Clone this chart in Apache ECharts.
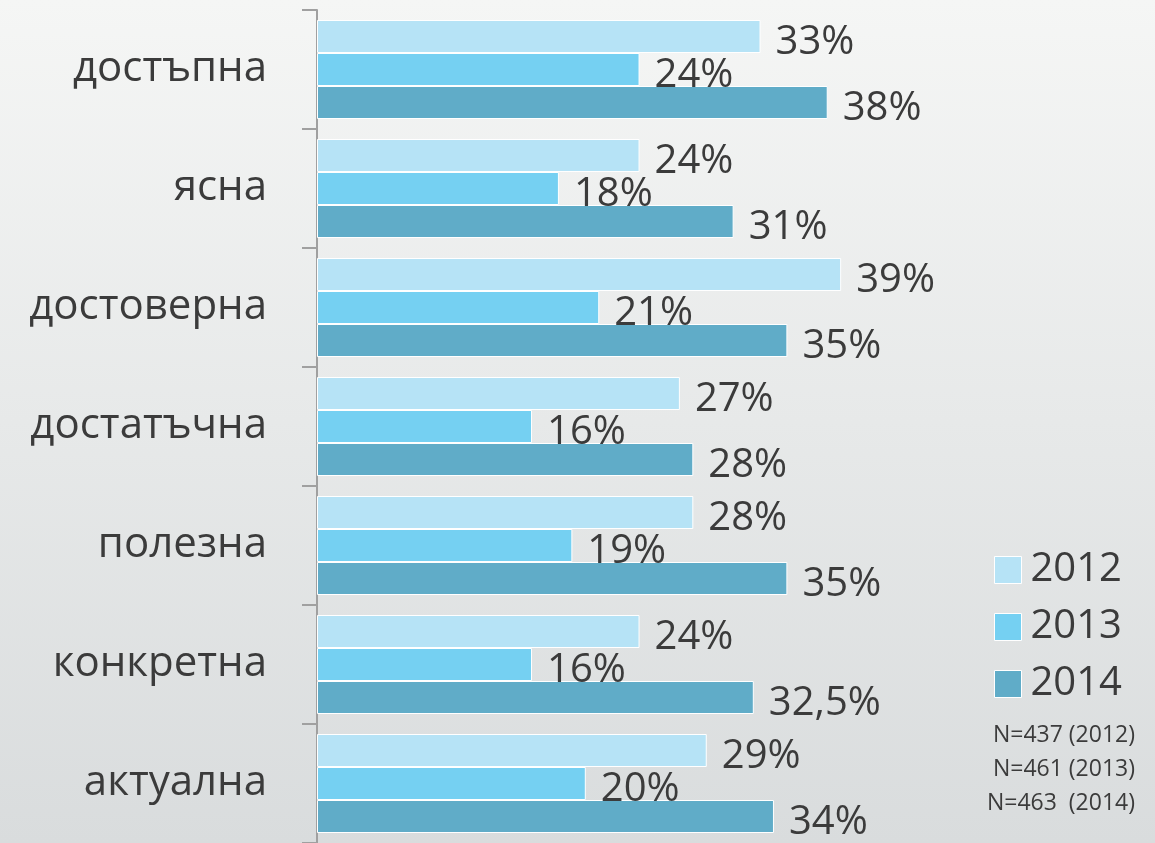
<!DOCTYPE html>
<html>
<head>
<meta charset="utf-8">
<script src="https://cdn.jsdelivr.net/npm/echarts@6/dist/echarts.min.js"></script>
<style>
  html, body { margin: 0; padding: 0; }
  #chart { width: 1155px; height: 843px; }
</style>
</head>
<body>
<div id="chart"></div>
<script>
// категории отгоре надолу
var categories = ['достъпна', 'ясна', 'достоверна', 'достатъчна', 'полезна', 'конкретна', 'актуална'];
var years = ['2012', '2013', '2014'];
var values2012 = [33, 24, 39, 27, 28, 24, 29];
var values2013 = [24, 18, 21, 16, 19, 16, 20];
var values2014 = [38, 31, 35, 28, 35, 32.5, 34];
var sampleNotes = ['N=437 (2012)', 'N=461 (2013)', 'N=463  (2014)'];

var colors = ['#b6e3f6', '#75d0f2', '#60acc8'];
var fontName = '"Open Sans", "DejaVu Sans", sans-serif';

function pctLabel(p) {
    return String(p.value).replace('.', ',') + '%';
}

function makeSerie(name, data, color) {
    return {
        name: name,
        type: 'bar',
        data: data,
        barWidth: 33,
        barGap: 0,
        itemStyle: { color: color, borderColor: '#ffffff', borderWidth: 1 },
        label: {
            show: true,
            position: 'right',
            distance: 15,
            offset: [0, 6],
            formatter: pctLabel,
            color: '#3b3b3b',
            fontFamily: fontName,
            fontSize: 40
        }
    };
}

// бележки за извадката, подравнени вдясно
var notes = [];
for (var i = 0; i < sampleNotes.length; i++) {
    notes.push({
        type: 'text',
        right: 20,
        top: 724 + i * 34,
        style: {
            text: sampleNotes[i],
            fontFamily: fontName,
            fontSize: 23,
            fill: '#3b3b3b'
        }
    });
}

var chart = echarts.init(document.getElementById('chart'));

var option = {
    backgroundColor: {
        type: 'linear', x: 0, y: 0, x2: 0, y2: 1,
        colorStops: [
            { offset: 0, color: '#f5f6f5' },
            { offset: 1, color: '#d9dcdd' }
        ]
    },
    animation: false,
    color: colors,
    grid: {
        left: 317,
        top: 10,
        width: 672,
        height: 835,
        containLabel: false
    },
    legend: {
        data: years,
        orient: 'vertical',
        left: 989,
        top: 545,
        itemWidth: 27,
        itemHeight: 27,
        itemGap: 17,
        icon: 'rect',
        itemStyle: { borderColor: '#ffffff', borderWidth: 1 },
        textStyle: { fontFamily: fontName, fontSize: 40, lineHeight: 40, color: '#3b3b3b', padding: [0, 0, 0, 4] }
    },
    xAxis: {
        type: 'value',
        min: 0,
        max: 50,
        show: false
    },
    yAxis: {
        type: 'category',
        data: categories,
        inverse: true,
        axisLine: { show: true, lineStyle: { color: '#a0a0a0', width: 2 } },
        axisTick: { show: true, length: 15, lineStyle: { color: '#a0a0a0', width: 2 } },
        axisLabel: {
            margin: 50,
            fontFamily: fontName,
            fontSize: 42,
            color: '#3b3b3b'
        },
        splitLine: { show: false }
    },
    graphic: notes,
    series: [
        makeSerie(years[0], values2012, colors[0]),
        makeSerie(years[1], values2013, colors[1]),
        makeSerie(years[2], values2014, colors[2])
    ]
};

chart.setOption(option);
</script>
</body>
</html>
